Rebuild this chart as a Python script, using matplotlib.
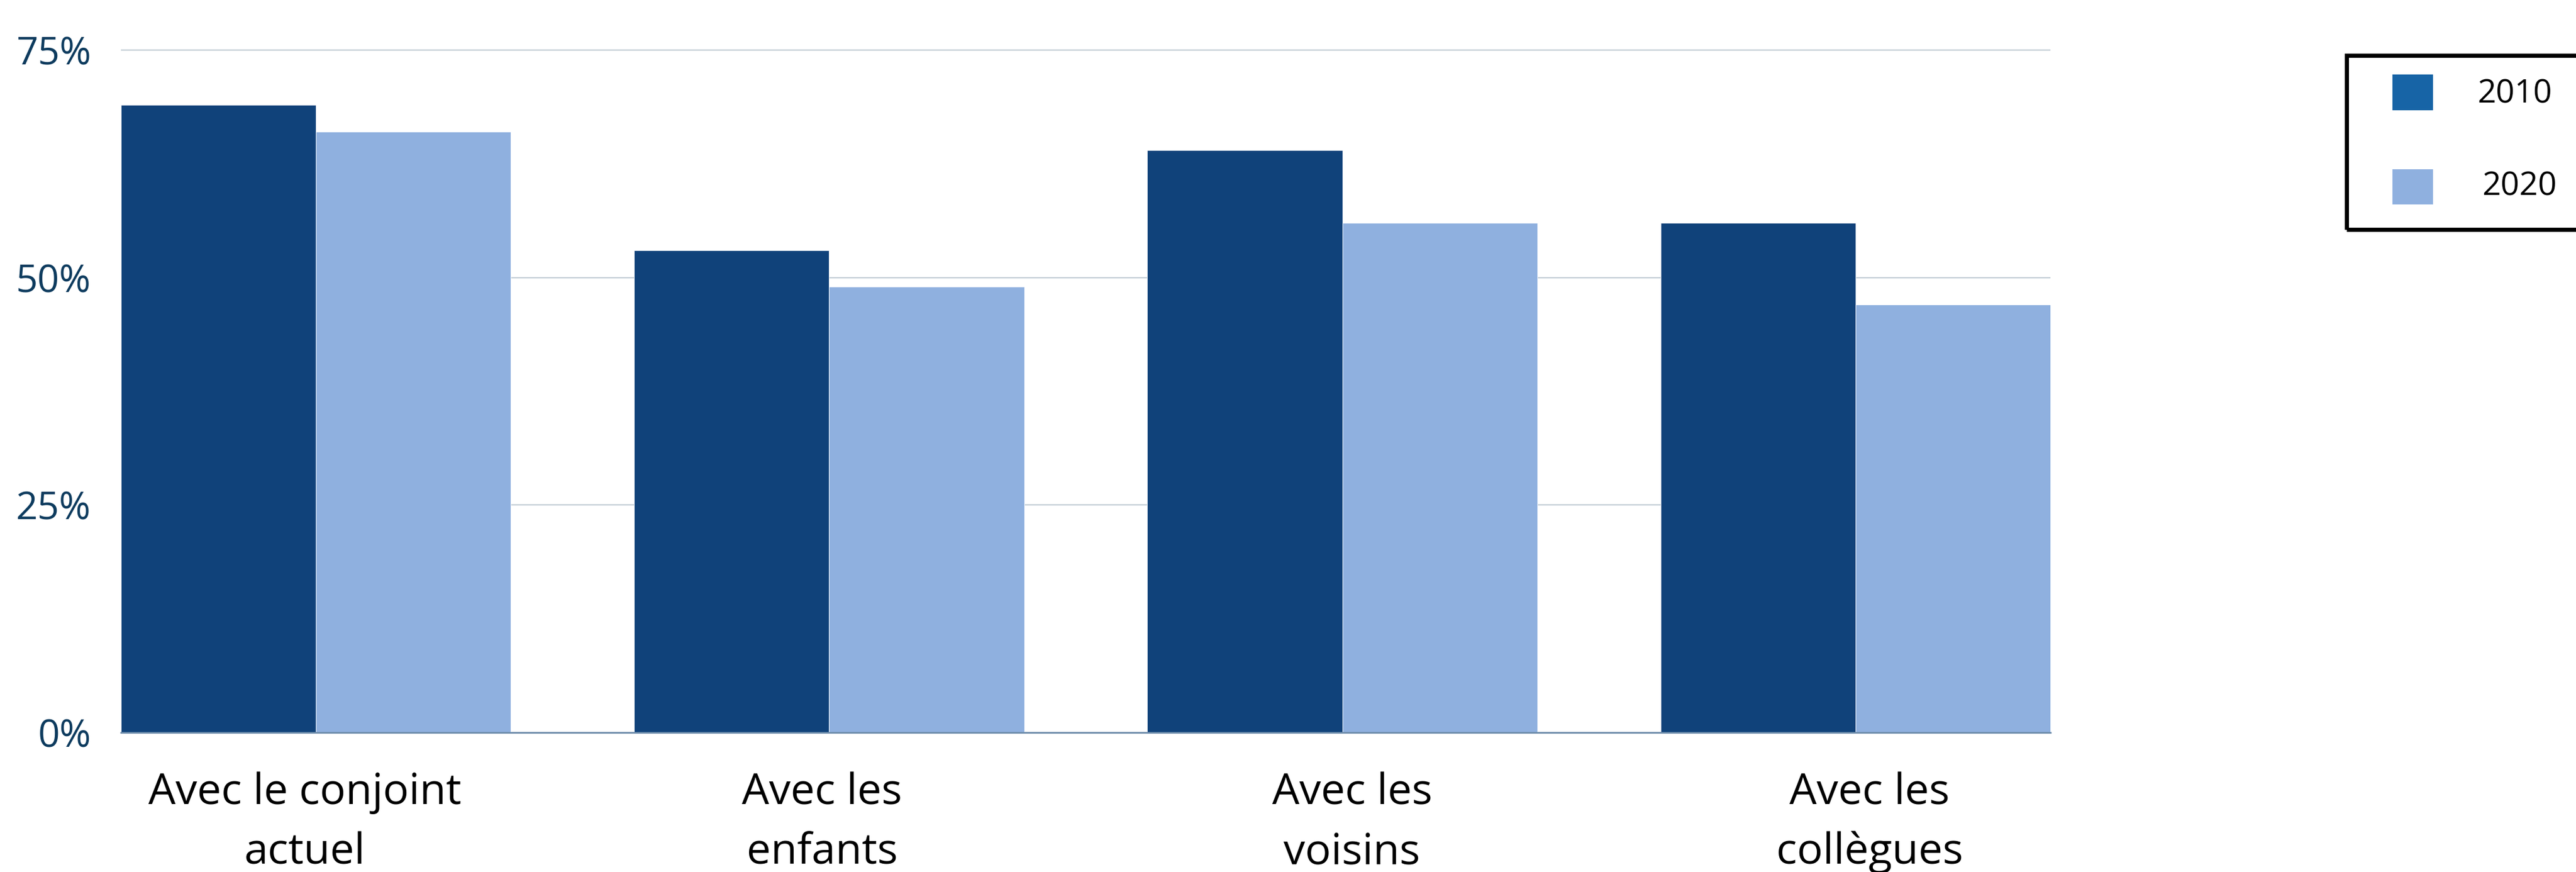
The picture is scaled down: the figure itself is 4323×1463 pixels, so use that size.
import matplotlib
matplotlib.use("Agg")
import matplotlib.pyplot as plt
import numpy as np
from matplotlib.patches import Rectangle
from matplotlib.transforms import blended_transform_factory

# ---- data ----
categories = ["Avec le conjoint\nactuel", "Avec les\nenfants", "Avec les\nvoisins", "Avec les\ncollègues"]
series_names = ["2010", "2020"]
values_2010 = [69, 53, 64, 56]
values_2020 = [66, 49, 56, 47]
y_ticks = [0, 25, 50, 75]
y_tick_labels = ["0%", "25%", "50%", "75%"]

bar_colors = ["#10427A", "#8FB0DF"]
legend_colors = ["#1764A6", "#8FB0DF"]

plt.rcParams['font.family'] = ['Open Sans', 'DejaVu Sans']

W, H = 4323, 1463
dpi = 100
fig = plt.figure(figsize=(W / dpi, H / dpi), dpi=dpi)

def fx(px):
    return px / W

def fy(py):
    return 1 - py / H

ymax = 75.3
px_per_unit = (1229 - 84) / 75.0
top_px = 1229 - ymax * px_per_unit
ax = fig.add_axes([203 / W, 1 - 1229 / H, (3441 - 203) / W, (1229 - top_px) / H])

x = np.arange(len(categories))
bw = 0.38
ax.bar(x - bw / 2, values_2010, width=bw, color=bar_colors[0], edgecolor="white", linewidth=0.6, zorder=3)
ax.bar(x + bw / 2, values_2020, width=bw, color=bar_colors[1], edgecolor="white", linewidth=0.6, zorder=3)

ax.set_xlim(-bw, len(categories) - 1 + bw)
ax.set_ylim(0, ymax)

ax.set_yticks(y_ticks)
ax.set_yticklabels(y_tick_labels)
ax.set_xticks(x)
ax.set_xticklabels([])

ax.tick_params(axis="y", length=0, pad=36, labelsize=46, labelcolor="#0D3B5E")
ax.tick_params(axis="x", length=0)

# category labels: two lines each, fixed baselines
label_shift = [-0.022, -0.014, 0.019, 0.028]
trans = blended_transform_factory(ax.transData, fig.transFigure)
for i, cat in enumerate(categories):
    for j, line in enumerate(cat.split("\n")):
        ax.text(x[i] + label_shift[i], fy(1349 + 100 * j), line, transform=trans,
                ha="center", va="baseline", fontsize=52, color="black", clip_on=False)

ax.grid(axis="y", color="#C3CED6", linewidth=1.5, zorder=0)
ax.grid(axis="x", visible=False)
ax.set_axisbelow(True)

for s in ["top", "right", "left"]:
    ax.spines[s].set_visible(False)
ax.spines["bottom"].set_color("#6C8BAA")
ax.spines["bottom"].set_linewidth(2.0)
ax.spines["bottom"].set_zorder(4)

# ---- legend (drawn in figure pixels) ----
fig.patches.append(Rectangle((fx(3938), fy(385)), fx(4400 - 3938), (385 - 93) / H,
                             transform=fig.transFigure, fill=False, edgecolor="black",
                             linewidth=5, zorder=10))
sq_y = [(125, 185), (284, 343)]
txt_pos = [(4220, 158), (4228, 313)]
for i, name in enumerate(series_names):
    y0, y1 = sq_y[i]
    fig.patches.append(Rectangle((fx(4015), fy(y1)), fx(4083 - 4015), (y1 - y0) / H,
                                 transform=fig.transFigure, facecolor=legend_colors[i],
                                 edgecolor="none", zorder=11))
    tx, ty = txt_pos[i]
    fig.text(fx(tx), fy(ty), name, ha="center", va="center", fontsize=39.5, color="black")

fig.savefig("out.png", dpi=dpi)
